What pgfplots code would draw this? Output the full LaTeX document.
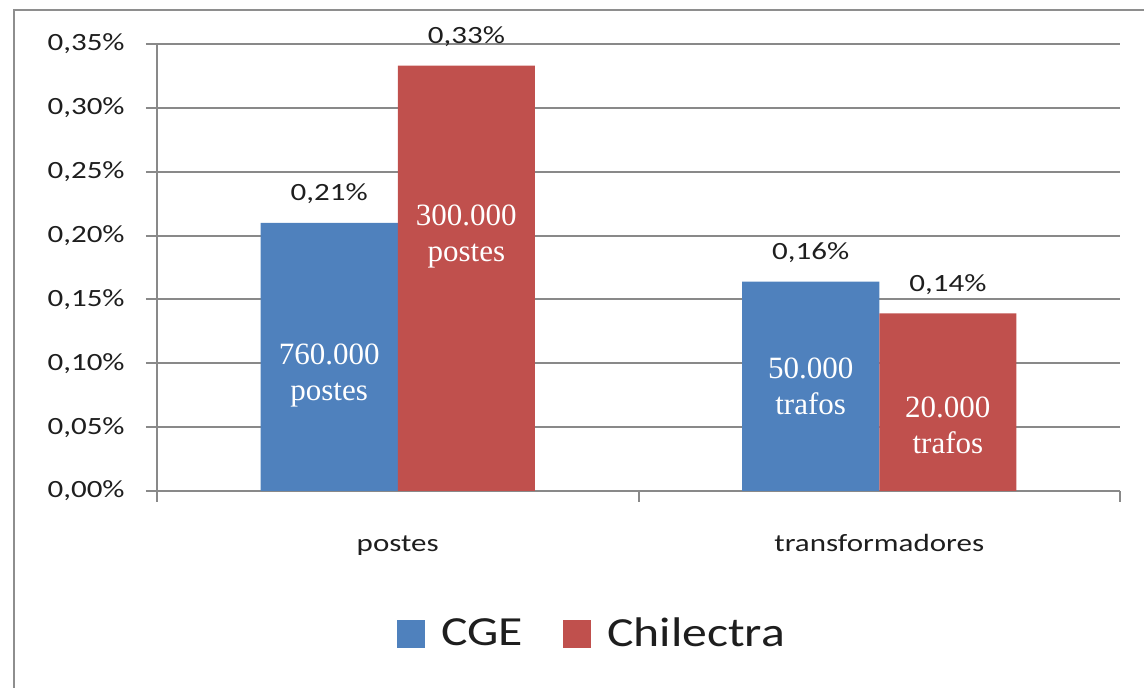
\documentclass[border=0pt]{standalone}
\usepackage{pgfplots}
\pgfplotsset{compat=1.18}
\usepackage{fontspec}
\newfontfamily\calib{Carlito}
\newfontfamily\pala{Liberation Serif}
\newcommand\sx[1]{\scalebox{1.25}[1]{#1}}
\definecolor{cgeblue}{HTML}{4F81BD}
\definecolor{chired}{HTML}{C0504D}
\definecolor{gridgray}{HTML}{898989}
\definecolor{framegray}{HTML}{8E8E8E}
\definecolor{txt}{HTML}{1E1E1E}
\begin{document}
\begin{tikzpicture}
\useasboundingbox (-78.5pt,-98.5pt) rectangle (493.5pt,245.5pt);
\draw[framegray, line width=1.2pt] (-71.5pt,-110pt) -- (-71.5pt,240.5pt) -- (510pt,240.5pt);
\begin{axis}[
  at={(0pt,0pt)}, anchor=south west,
  width=481.5pt, height=223.5pt, scale only axis,
  xmin=-0.5, xmax=1.5, ymin=0, ymax=0.35,
  axis lines*=left,
  axis line style={-, draw=gridgray, line width=1pt},
  clip=false,
  ybar, bar width=0.285,
  ytick={0,0.05,0.1,0.15,0.2,0.25,0.3,0.35},
  yticklabels={\sx{0,00\%},\sx{0,05\%},\sx{0,10\%},\sx{0,15\%},\sx{0,20\%},\sx{0,25\%},\sx{0,30\%},\sx{0,35\%}},
  ymajorgrids, grid style={gridgray, line width=1pt},
  xtick={-0.5,0.5,1.5}, xticklabels={},
  extra x ticks={0,1}, extra x tick labels={\sx{postes}, \sx{transformadores}},
  extra x tick style={major tick length=0pt, xmajorgrids=false},
  tick align=outside, major tick length=5.5pt,
  tick style={gridgray, line width=1pt},
  xticklabel style={font=\calib\fontsize{12.4}{14}\selectfont, text=txt, anchor=base, inner sep=0pt, yshift=-30.5pt},
  yticklabel style={font=\calib\fontsize{12.4}{14}\selectfont, text=txt, anchor=east, inner sep=0pt, xshift=-10.5pt},
  nodes near coords, point meta=explicit symbolic,
  every node near coord/.append style={font=\calib\fontsize{12.4}{14}\selectfont, text=txt, anchor=base, inner sep=0pt, yshift=11pt},
  legend style={at={(0.453,-0.32)}, anchor=center, draw=none, fill=none, legend columns=2,
    font=\calib\fontsize{20.7}{24}\selectfont, text=txt,
    /tikz/every odd column/.append style={column sep=6pt},
    /tikz/every even column/.append style={column sep=18pt}},
  legend image code/.code={\fill[#1] (0pt,-7pt) rectangle (14pt,7pt);},
]
\addplot[fill=cgeblue, draw=none, bar shift=-0.1425] coordinates {(0,0.21) [\sx{0,21\%}] (1,0.164) [\sx{0,16\%}]};
\addlegendentry{\scalebox{1.2}[1]{CGE}}
\addplot[fill=chired, draw=none, bar shift=0.1425] coordinates {(0,0.333) [\sx{0,33\%}] (1,0.139) [\sx{0,14\%}]};
\addlegendentry{\scalebox{1.2}[1]{Chilectra}}
\node[text=white, align=center, font=\pala\fontsize{15.5}{18}\selectfont] at (axis cs:-0.1425,0.0908) {760.000\\postes};
\node[text=white, align=center, font=\pala\fontsize{15.5}{18}\selectfont] at (axis cs:0.1425,0.1989) {300.000\\postes};
\node[text=white, align=center, font=\pala\fontsize{15.5}{18}\selectfont] at (axis cs:0.8575,0.0822) {50.000\\trafos};
\node[text=white, align=center, font=\pala\fontsize{15.5}{18}\selectfont] at (axis cs:1.1425,0.0517) {20.000\\trafos};
\end{axis}
\end{tikzpicture}
\end{document}
